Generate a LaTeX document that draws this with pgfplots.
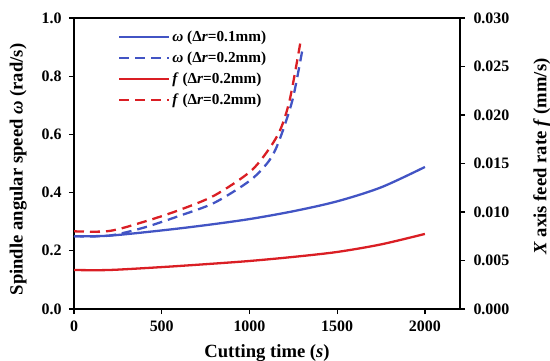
\documentclass[border=0pt]{standalone}
\usepackage{fontspec}
\setmainfont{Liberation Serif}
\usepackage{pgfplots}
\pgfplotsset{compat=1.18}
\definecolor{myblue}{RGB}{66,84,196}
\definecolor{myred}{RGB}{218,30,36}
\begin{document}
\begin{tikzpicture}
\pgfplotsset{
  common/.style={
    scale only axis, width=386bp, height=291bp,
    xmin=0, xmax=2200,
    tick align=outside,
    axis line style={line width=1.2pt},
    major tick length=5bp,
    every tick/.style={line width=1.2pt, black},
    ticklabel style={font=\bfseries\fontsize{16}{18}\selectfont},
    /pgf/number format/assume math mode=true,
    /pgf/number format/1000 sep={},
    label style={font=\bfseries\fontsize{18.7}{21}\selectfont},
    scaled y ticks=false,
  },
  wline/.style={line width=2.3pt},
  dline/.style={line width=2.3pt, dash pattern=on 10bp off 6bp},
}
\begin{axis}[common,
  ymin=0, ymax=1,
  xtick={0,500,1000,1500,2000},
  ytick={0,0.2,0.4,0.6,0.8,1.0},
  xtick pos=bottom, ytick pos=left,
  yticklabel style={/pgf/number format/fixed, /pgf/number format/fixed zerofill, /pgf/number format/precision=1, xshift=-4bp},
  xticklabel style={yshift=-3bp},
  xlabel={Cutting time (\textit{s})},
  ylabel={Spindle angular speed \textit{ω} (rad/s)},
  xlabel style={yshift=-6bp},
  ylabel style={yshift=8bp, xshift=-6bp},
]
% omega, dr = 0.1 mm
\addplot[myblue, wline, smooth] coordinates {
 (0,0.250) (200,0.252) (500,0.270) (750,0.288) (1000,0.309) (1250,0.336) (1500,0.370) (1750,0.418) (2000,0.488)};
% omega, dr = 0.2 mm
\addplot[myblue, dline, smooth] coordinates {
 (0,0.250) (200,0.252) (400,0.280) (600,0.320) (800,0.365) (1000,0.440) (1100,0.500) (1150,0.550) (1200,0.630) (1250,0.730) (1300,0.885)};
\end{axis}
\begin{axis}[common,
  hide x axis,
  axis y line*=right,
  ymin=0, ymax=0.03,
  ytick={0,0.005,0.010,0.015,0.020,0.025,0.030},
  yticklabel style={/pgf/number format/fixed, /pgf/number format/fixed zerofill, /pgf/number format/precision=3, xshift=5bp},
  ylabel={\textit{X} axis feed rate \textit{f} (mm/s)},
  ylabel style={yshift=-17bp, xshift=7bp},
  legend style={draw=none, fill=none, at={(0.106,0.97)}, anchor=north west,
    font=\bfseries\fontsize{15.3}{17}\selectfont, row sep=5bp},
  legend cell align=left,
  legend image code/.code={\draw[#1] (0bp,0bp) -- (50bp,0bp);},
]
\addlegendimage{myblue, wline}
\addlegendentry{\textit{ω} (Δ\textit{r}=0.1mm)}
\addlegendimage{myblue, dline}
\addlegendentry{\textit{ω} (Δ\textit{r}=0.2mm)}
% f, dr = 0.2 mm (solid)
\addplot[myred, wline, smooth] coordinates {
 (0,0.00402) (200,0.00402) (500,0.00432) (750,0.00462) (1000,0.00495) (1250,0.00537) (1500,0.00588) (1750,0.00666) (2000,0.00774)};
\addlegendentry{\textit{f} (Δ\textit{r}=0.2mm)}
% f, dr = 0.2 mm (dashed)
\addplot[myred, dline, smooth] coordinates {
 (0,0.00801) (200,0.00804) (400,0.00900) (600,0.01020) (800,0.01170) (1000,0.01410) (1100,0.01620) (1175,0.01845) (1230,0.02160) (1290,0.02745)};
\addlegendentry{\textit{f} (Δ\textit{r}=0.2mm)}
\end{axis}
\pgfresetboundingbox
\path ([shift={(-74bp,-52bp)}]current axis.south west) rectangle ([shift={(90bp,18bp)}]current axis.north east);
\end{tikzpicture}
\end{document}
